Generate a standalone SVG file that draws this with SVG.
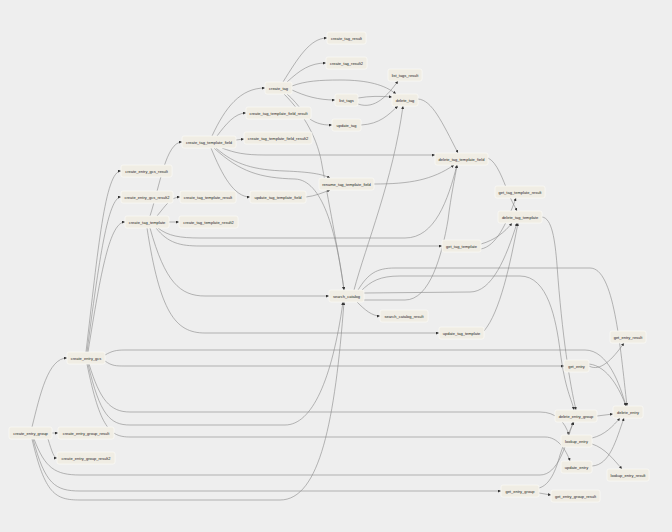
<svg xmlns="http://www.w3.org/2000/svg" width="672" height="532" viewBox="0 0 672 532" font-family="'Liberation Sans', Arial, sans-serif">
<style>
.bg{fill:#eeeeee}
.n rect{fill:#f0ede4;stroke:#fbfaf6;stroke-width:0.7}
.n text{font-family:'Liberation Sans',Arial,sans-serif;font-size:4px;fill:#222;text-anchor:middle;dominant-baseline:central}
#edges path{fill:none;stroke:#888888;stroke-width:0.6;marker-end:url(#a)}
</style>
<defs>
<marker id="a" viewBox="0 0 10 10" refX="10" refY="5" markerWidth="3" markerHeight="3" markerUnits="userSpaceOnUse" orient="auto"><path d="M0,0 L10,5 L0,10 z" fill="#333"/></marker>
</defs>
<rect class="bg" x="0" y="0" width="672" height="532"/>
<g id="edges">
<path d="M32,427 C40,395 48,358 67,358"/>
<path d="M52,433 L58,433"/>
<path d="M48,439 C52,452 54,458 57,458"/>
<path d="M34,439 C45,468 55,475 80,475 L540,475 C558,475 566,445 573,422"/>
<path d="M33,439 C45,484 55,491 80,491 L501,491"/>
<path d="M32,439 C45,494 55,500 80,500 L280,500 C320,500 335,420 344,302"/>
<path d="M86,352 C98,250 105,171 121,171"/>
<path d="M87,352 C99,260 108,197 121,197"/>
<path d="M88,352 C101,270 110,222 125,222"/>
<path d="M105,355 C112,351 116,350 125,350 L585,350 C608,350 620,385 626,406"/>
<path d="M105,361 C112,366 116,366 125,366 L564,366"/>
<path d="M89,364 C100,400 110,412 130,412 L540,412 C556,412 565,422 569,435"/>
<path d="M88,364 C100,415 110,425 130,425 L285,425 C312,425 332,380 343,302"/>
<path d="M87,364 C100,428 110,437 130,437 L545,437 C558,437 566,450 570,461"/>
<path d="M150,216 C160,185 166,142 182,142"/>
<path d="M157,216 C166,205 171,197 180,197"/>
<path d="M169,222 L179,222"/>
<path d="M158,228 C168,236 180,238 200,238 L405,238 C435,238 448,200 457,165"/>
<path d="M156,228 C168,243 180,246 200,246 L442,246"/>
<path d="M150,228 C165,282 180,296 205,296 L329,296"/>
<path d="M147,228 C160,312 175,333 205,333 L439,333"/>
<path d="M212,136 C225,108 240,88 265,88"/>
<path d="M217,136 C226,124 235,113 246,113"/>
<path d="M236,140 L244,139"/>
<path d="M222,148 C235,153 245,155 265,155 L435,155"/>
<path d="M216,148 C235,165 255,170 285,171 C310,172 322,174 330,178"/>
<path d="M214,148 C240,172 260,178 295,179 C322,180 336,230 344,290"/>
<path d="M211,148 C222,175 234,197 250,197"/>
<path d="M306,197 C315,196 322,193 330,190"/>
<path d="M283,82 C298,58 310,38 327,38"/>
<path d="M287,82 C300,70 310,63 326,63"/>
<path d="M292,86 C305,81 320,80 340,80 C368,80 385,85 396,94"/>
<path d="M292,90 C305,96 318,100 335,100"/>
<path d="M287,94 C300,105 305,118 315,122 C322,125 327,125 332,125"/>
<path d="M284,94 C305,115 318,140 322,165 C330,210 340,260 344,290"/>
<path d="M358,98 C370,96 380,96 392,97"/>
<path d="M358,104 C375,110 388,95 398,81"/>
<path d="M361,125 C380,124 388,115 398,106"/>
<path d="M418,99 C432,100 442,122 458,153"/>
<path d="M354,290 C366,245 393,180 403,106"/>
<path d="M364,300 L405,300 C430,300 442,255 448,220 C451,195 455,178 457,165"/>
<path d="M364,293 L470,292 C492,292 506,258 517,223"/>
<path d="M358,290 C368,274 376,268 395,268 L590,268 C614,268 620,345 627,406"/>
<path d="M361,291 C371,281 380,276 400,276 L520,276 C548,276 556,320 560,350 C565,390 572,400 574,410"/>
<path d="M357,302 C365,310 372,316 380,316"/>
<path d="M481,244 C495,240 505,232 512,223"/>
<path d="M481,249 C496,246 506,225 516,198"/>
<path d="M488,158 C497,162 503,180 508,192 C511,200 514,205 517,211"/>
<path d="M542,217 C552,218 555,240 557,265 C562,335 570,385 576,410"/>
<path d="M484,331 C500,312 510,265 518,223"/>
<path d="M374,184 C410,184 432,180 454,165"/>
<path d="M589,366 C600,372 612,360 624,343"/>
<path d="M589,364 C608,366 620,390 626,406"/>
<path d="M597,416 L613,414"/>
<path d="M592,438 C605,435 613,426 620,418"/>
<path d="M592,444 C605,448 614,460 622,469"/>
<path d="M592,466 C610,465 616,440 624,418"/>
<path d="M539,488 C550,485 556,470 560,455 C565,440 570,430 574,422"/>
<path d="M539,493 L551,495"/>
</g>
<g id="create_entry_group" class="n"><rect x="9" y="427" width="43" height="12" rx="2"/><text x="30.5" y="433">create_entry_group</text></g>
<g id="create_entry_group_result" class="n"><rect x="58" y="427" width="56" height="12" rx="2"/><text x="86" y="433">create_entry_group_result</text></g>
<g id="create_entry_group_result2" class="n"><rect x="57" y="452" width="58" height="12" rx="2"/><text x="86" y="458">create_entry_group_result2</text></g>
<g id="create_entry_gcs" class="n"><rect x="67" y="352" width="38" height="12" rx="2"/><text x="86" y="358">create_entry_gcs</text></g>
<g id="create_entry_gcs_result" class="n"><rect x="121" y="165" width="51" height="12" rx="2"/><text x="146.5" y="171">create_entry_gcs_result</text></g>
<g id="create_entry_gcs_result2" class="n"><rect x="121" y="191" width="52" height="12" rx="2"/><text x="147" y="197">create_entry_gcs_result2</text></g>
<g id="create_tag_template" class="n"><rect x="125" y="216" width="44" height="12" rx="2"/><text x="147" y="222">create_tag_template</text></g>
<g id="create_tag_template_result" class="n"><rect x="180" y="191" width="56" height="12" rx="2"/><text x="208" y="197">create_tag_template_result</text></g>
<g id="create_tag_template_result2" class="n"><rect x="179" y="216" width="59" height="12" rx="2"/><text x="208.5" y="222">create_tag_template_result2</text></g>
<g id="create_tag_template_field" class="n"><rect x="182" y="136" width="54" height="12" rx="2"/><text x="209" y="142">create_tag_template_field</text></g>
<g id="create_tag_template_field_result" class="n"><rect x="246" y="107" width="65" height="12" rx="2"/><text x="278.5" y="113">create_tag_template_field_result</text></g>
<g id="create_tag_template_field_result2" class="n"><rect x="244" y="132" width="68" height="12" rx="2"/><text x="278" y="138">create_tag_template_field_result2</text></g>
<g id="update_tag_template_field" class="n"><rect x="250" y="191" width="56" height="12" rx="2"/><text x="278" y="197">update_tag_template_field</text></g>
<g id="create_tag" class="n"><rect x="265" y="82" width="27" height="12" rx="2"/><text x="278.5" y="88">create_tag</text></g>
<g id="create_tag_result" class="n"><rect x="327" y="32" width="39" height="12" rx="2"/><text x="346.5" y="38">create_tag_result</text></g>
<g id="create_tag_result2" class="n"><rect x="326" y="57" width="41" height="12" rx="2"/><text x="346.5" y="63">create_tag_result2</text></g>
<g id="list_tags" class="n"><rect x="335" y="94" width="23" height="12" rx="2"/><text x="346.5" y="100">list_tags</text></g>
<g id="list_tags_result" class="n"><rect x="388" y="69" width="34" height="12" rx="2"/><text x="405" y="75">list_tags_result</text></g>
<g id="update_tag" class="n"><rect x="332" y="119" width="29" height="12" rx="2"/><text x="346.5" y="125">update_tag</text></g>
<g id="delete_tag" class="n"><rect x="392" y="94" width="26" height="12" rx="2"/><text x="405" y="100">delete_tag</text></g>
<g id="rename_tag_template_field" class="n"><rect x="319" y="178" width="55" height="12" rx="2"/><text x="346.5" y="184">rename_tag_template_field</text></g>
<g id="delete_tag_template_field" class="n"><rect x="435" y="153" width="53" height="12" rx="2"/><text x="461.5" y="159">delete_tag_template_field</text></g>
<g id="search_catalog" class="n"><rect x="329" y="290" width="35" height="12" rx="2"/><text x="346.5" y="296">search_catalog</text></g>
<g id="search_catalog_result" class="n"><rect x="380" y="310" width="48" height="12" rx="2"/><text x="404" y="316">search_catalog_result</text></g>
<g id="get_tag_template" class="n"><rect x="442" y="240" width="39" height="12" rx="2"/><text x="461.5" y="246">get_tag_template</text></g>
<g id="get_tag_template_result" class="n"><rect x="495" y="186" width="50" height="12" rx="2"/><text x="520" y="192">get_tag_template_result</text></g>
<g id="delete_tag_template" class="n"><rect x="498" y="211" width="44" height="12" rx="2"/><text x="520" y="217">delete_tag_template</text></g>
<g id="update_tag_template" class="n"><rect x="439" y="327" width="45" height="12" rx="2"/><text x="461.5" y="333">update_tag_template</text></g>
<g id="get_entry_result" class="n"><rect x="610" y="331" width="36" height="12" rx="2"/><text x="628" y="337">get_entry_result</text></g>
<g id="get_entry" class="n"><rect x="564" y="360" width="25" height="12" rx="2"/><text x="576.5" y="366">get_entry</text></g>
<g id="delete_entry_group" class="n"><rect x="555" y="410" width="42" height="12" rx="2"/><text x="576" y="416">delete_entry_group</text></g>
<g id="delete_entry" class="n"><rect x="613" y="406" width="30" height="12" rx="2"/><text x="628" y="412">delete_entry</text></g>
<g id="lookup_entry" class="n"><rect x="561" y="435" width="31" height="12" rx="2"/><text x="576.5" y="441">lookup_entry</text></g>
<g id="update_entry" class="n"><rect x="561" y="461" width="31" height="12" rx="2"/><text x="576.5" y="467">update_entry</text></g>
<g id="lookup_entry_result" class="n"><rect x="607" y="469" width="42" height="12" rx="2"/><text x="628" y="475">lookup_entry_result</text></g>
<g id="get_entry_group" class="n"><rect x="501" y="485" width="38" height="12" rx="2"/><text x="520" y="491">get_entry_group</text></g>
<g id="get_entry_group_result" class="n"><rect x="551" y="490" width="49" height="12" rx="2"/><text x="575.5" y="496">get_entry_group_result</text></g>
</svg>
